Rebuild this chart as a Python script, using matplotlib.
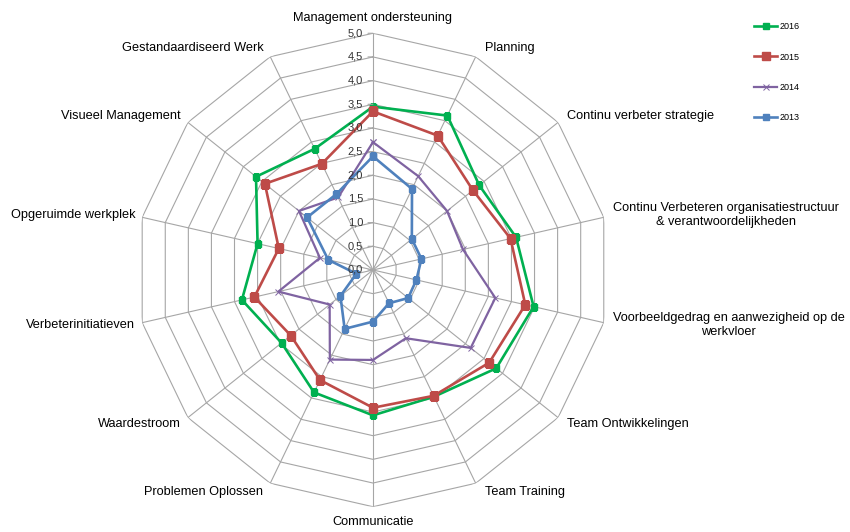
import numpy as np
import matplotlib
matplotlib.use("Agg")
import matplotlib.pyplot as plt

plt.rcParams['font.family'] = ['Liberation Sans', 'DejaVu Sans']

categories = [
    "Management ondersteuning",
    "Planning",
    "Continu verbeter strategie",
    "Continu Verbeteren organisatiestructuur\n& verantwoordelijkheden",
    "Voorbeeldgedrag en aanwezigheid op de\nwerkvloer",
    "Team Ontwikkelingen",
    "Team Training",
    "Communicatie",
    "Problemen Oplossen",
    "Waardestroom",
    "Verbeterinitiatieven",
    "Opgeruimde werkplek",
    "Visueel Management",
    "Gestandaardiseerd Werk",
]

v2016 = [3.45, 3.62, 2.87, 3.10, 3.48, 3.33, 2.97, 3.07, 2.87, 2.47, 2.84, 2.50, 3.16, 2.84]
v2015 = [3.35, 3.15, 2.70, 2.98, 3.30, 3.14, 2.95, 2.91, 2.58, 2.22, 2.57, 2.04, 2.92, 2.49]
v2014 = [2.70, 2.20, 2.00, 1.95, 2.65, 2.64, 1.60, 1.90, 2.10, 1.17, 2.05, 1.15, 2.00, 1.70]
v2013 = [2.40, 1.90, 1.05, 1.05, 0.94, 0.95, 0.78, 1.09, 1.38, 0.88, 0.36, 0.97, 1.78, 1.78]

series_names = ["2016", "2015", "2014", "2013"]
tick_values = [0.0, 0.5, 1.0, 1.5, 2.0, 2.5, 3.0, 3.5, 4.0, 4.5, 5.0]
tick_labels = ["0,0", "0,5", "1,0", "1,5", "2,0", "2,5", "3,0", "3,5", "4,0", "4,5", "5,0"]

N = len(categories)
theta = np.arange(N) * 2 * np.pi / N
theta_c = np.append(theta, theta[0])

fig = plt.figure(figsize=(8.5, 5.32), dpi=100)
ax = fig.add_axes([0.1603, 0.0475, 0.557, 0.89], projection='polar')
ax.set_theta_zero_location('N')
ax.set_theta_direction(-1)
ax.grid(False)
ax.spines['polar'].set_visible(False)
ax.set_xticks([])
ax.set_yticks([])

grid_col = '#A6A6A6'
for lv in tick_values[1:]:
    ax.plot(theta_c, [lv] * (N + 1), color=grid_col, lw=0.8, zorder=1)
for t in theta:
    ax.plot([t, t], [0, tick_values[-1]], color=grid_col, lw=0.8, zorder=1)

styles = {
    "2016": dict(color='#00B050', marker='s', ms=5.0, lw=1.9),
    "2015": dict(color='#BE4B48', marker='s', ms=5.6, lw=1.9),
    "2014": dict(color='#7F63A1', marker='x', ms=5, lw=1.6, mew=0.7),
    "2013": dict(color='#4F81BD', marker='s', ms=4.8, lw=1.9),
}
values = {"2016": v2016, "2015": v2015, "2014": v2014, "2013": v2013}
handles = []
for i, name in enumerate(series_names):
    vals = np.append(values[name], values[name][0])
    st = styles[name]
    h, = ax.plot(theta_c, vals, color=st['color'], lw=st['lw'], marker=st['marker'],
                 ms=st['ms'], mfc=st['color'], mec=st['color'], mew=st.get('mew', 1.0),
                 label=name, zorder=3 + i)
    handles.append(h)

ax.set_ylim(0, 5)

# radial tick labels and tick marks
for v, lab in zip(tick_values, tick_labels):
    ax.annotate(lab, xy=(0, v), xytext=(-10, 0), textcoords='offset pixels',
                ha='right', va='center', fontsize=8, color='#333333', zorder=10)
    ax.annotate('', xy=(0, v), xytext=(-5, 0), textcoords='offset pixels',
                arrowprops=dict(arrowstyle='-', color=grid_col, lw=0.8, shrinkA=0, shrinkB=0))

# category labels
for t, cat in zip(theta, categories):
    s, c = np.sin(t), np.cos(t)
    if abs(s) < 0.05:
        ha = 'center'
        va = 'bottom' if c > 0 else 'top'
        dx, dy = 0, 9 if c > 0 else -9
    else:
        ha = 'left' if s > 0 else 'right'
        va = 'center'
        dx = 9 if s > 0 else -7
        dy = 9.5 * c
    ax.annotate(cat, xy=(t, 5.0), xytext=(dx, dy), textcoords='offset pixels',
                ha=ha, va=va, multialignment='center', fontsize=9.2, color='black')

fig.legend(handles=handles, loc='upper left', bbox_to_anchor=(0.887, 0.958),
           frameon=False, fontsize=6.5, labelspacing=2.35, handlelength=2.6,
           handletextpad=0.25, borderpad=0, borderaxespad=0)

fig.savefig('out.png', dpi=100, facecolor='white')
